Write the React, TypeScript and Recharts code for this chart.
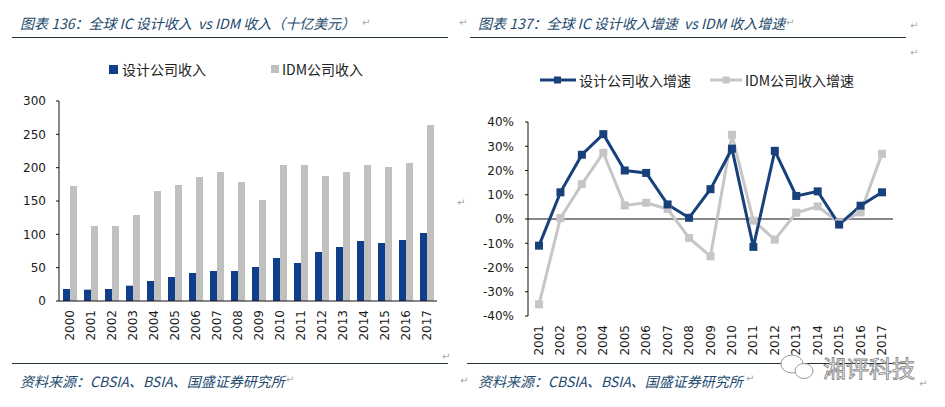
import React from "react";
import {
  Bar,
  BarChart,
  Line,
  LineChart,
  ReferenceLine,
  XAxis,
  YAxis,
} from "recharts";

const years = [
  "2000", "2001", "2002", "2003", "2004", "2005", "2006", "2007", "2008",
  "2009", "2010", "2011", "2012", "2013", "2014", "2015", "2016", "2017",
];
// 十亿美元
const designRevenue = [18, 17, 18, 23, 30, 36, 42, 45, 45, 51, 64.5, 57, 73.5, 81, 90, 87, 91.5, 102];
const idmRevenue = [172.5, 112.5, 112.5, 129, 165, 174, 186, 193.5, 178.5, 151.5, 204, 204, 187.5, 193.5, 204, 201, 207, 264];
const revenueTicks = [0, 50, 100, 150, 200, 250, 300];

// 增速 (%)
const growthYears = years.slice(1);
const designGrowth = [-11, 11, 26.5, 35, 20, 19, 6, 0.5, 12.3, 29, -11.5, 28.1, 9.5, 11.4, -2.3, 5.5, 11];
const idmGrowth = [-35.2, 0.4, 14.4, 27.3, 5.6, 6.7, 4.1, -7.8, -15.4, 34.7, -0.7, -8.5, 2.6, 5.2, -1.5, 2.7, 26.9];
const growthTicks = [-40, -30, -20, -10, 0, 10, 20, 30, 40];

const BLUE_BAR = "#0f3e8a";
const GRAY_BAR = "#c0c0c0";
const BLUE_LINE = "#18417c";
const GRAY_LINE = "#c6c6c6";
const CAPTION = "#1d4a6e";

const revenueData = years.map((year, i) => ({
  year,
  design: designRevenue[i],
  idm: idmRevenue[i],
}));

const growthData = growthYears.map((year, i) => ({
  year,
  design: designGrowth[i],
  idm: idmGrowth[i],
}));

const numFont = "'DejaVu Sans', Verdana, sans-serif";
const cjkFont = "'Noto Sans CJK SC', 'Noto Sans', sans-serif";
const tickStyle = { fill: "#1a1a1a", fontSize: 12, fontFamily: numFont };

function YearTick(props: any) {
  const { x, y, payload } = props;
  return (
    <text
      x={x}
      y={y + 1}
      transform={`rotate(-90, ${x}, ${y + 1})`}
      textAnchor="end"
      dominantBaseline="central"
      fill="#1a1a1a"
      fontSize={12}
      fontFamily={numFont}
    >
      {payload.value}
    </text>
  );
}

function squareDot(color: string) {
  return (props: any) => {
    const { cx, cy, index } = props;
    if (cx == null || cy == null) return null;
    return <rect key={index} x={cx - 4} y={cy - 4} width={8} height={8} fill={color} />;
  };
}

const captionStyle: React.CSSProperties = {
  position: "absolute",
  fontFamily: cjkFont,
  fontStyle: "italic",
  fontSize: 14,
  color: CAPTION,
  whiteSpace: "nowrap",
  lineHeight: "16px",
};

const rule = (left: number, top: number, width: number): React.CSSProperties => ({
  position: "absolute",
  left,
  top,
  width,
  height: 0,
  borderTop: "1.5px solid #22333d",
});

// word-processor return marks scattered round the two figures
const returnMarks = [
  [362, 17], [459, 17], [786, 17], [910, 20], [910, 47], [457, 197],
  [442, 351], [286, 374], [460, 375], [746, 373], [919, 378],
];

export default function App() {
  return (
    <div
      style={{
        position: "absolute",
        left: 0,
        top: 0,
        width: 945,
        height: 407,
        background: "#fff",
        overflow: "hidden",
      }}
    >
      {/* captions */}
      <div style={{ ...captionStyle, left: 20, top: 15 }}>
        图表 136：全球 IC 设计收入 &nbsp;vs IDM 收入（十亿美元）
      </div>
      <div style={{ ...captionStyle, left: 478, top: 15 }}>
        图表 137：全球 IC 设计收入增速 &nbsp;vs IDM 收入增速
      </div>
      <div style={rule(12, 37, 436)} />
      <div style={rule(470, 37, 436)} />
      <div style={rule(12, 363, 436)} />
      <div style={rule(467, 363, 439)} />
      <div style={{ ...captionStyle, left: 20, top: 373 }}>
        资料来源：CBSIA、BSIA、国盛证券研究所
      </div>
      <div style={{ ...captionStyle, left: 478, top: 373 }}>
        资料来源：CBSIA、BSIA、国盛证券研究所
      </div>
      {returnMarks.map(([l, t], i) => (
        <div
          key={i}
          style={{ position: "absolute", left: l, top: t, fontSize: 10, color: "#aaa", fontFamily: numFont }}
        >
          ↵
        </div>
      ))}

      {/* left legend */}
      <div style={{ position: "absolute", left: 109, top: 59, display: "flex", alignItems: "center", fontFamily: cjkFont, fontSize: 14, color: "#222" }}>
        <span style={{ width: 9, height: 9, background: BLUE_BAR, display: "inline-block", marginRight: 4 }} />
        <span>设计公司收入</span>
        <span style={{ width: 8, height: 8, background: GRAY_BAR, display: "inline-block", marginLeft: 65, marginRight: 3 }} />
        <span>IDM公司收入</span>
      </div>

      {/* left chart */}
      <div style={{ position: "absolute", left: 0, top: 0 }}>
        <BarChart
          width={460}
          height={360}
          data={revenueData}
          margin={{ top: 101, right: 23, bottom: 19, left: 10 }}
          barGap={0}
          barSize={7}
        >
          <XAxis
            dataKey="year"
            interval={0}
            tickLine={false}
            axisLine={{ stroke: "#111" }}
            height={40}
            tick={<YearTick />}
          />
          <YAxis
            domain={[0, 300]}
            ticks={revenueTicks}
            width={49}
            tickSize={3}
            tickMargin={10}
            tickLine={{ stroke: "#111" }}
            axisLine={{ stroke: "#111" }}
            tick={tickStyle}
          />
          <Bar dataKey="design" fill={BLUE_BAR} isAnimationActive={false} />
          <Bar dataKey="idm" fill={GRAY_BAR} isAnimationActive={false} />
        </BarChart>
      </div>

      {/* right legend */}
      <div style={{ position: "absolute", left: 540, top: 70, display: "flex", alignItems: "center", fontFamily: cjkFont, fontSize: 14, color: "#222" }}>
        <svg width={36} height={10} style={{ marginRight: 3 }}>
          <line x1={0} y1={5} x2={36} y2={5} stroke={BLUE_LINE} strokeWidth={3} />
          <rect x={14} y={1.5} width={7} height={7} fill={BLUE_LINE} />
        </svg>
        <span>设计公司收入增速</span>
        <svg width={32} height={10} style={{ marginLeft: 19, marginRight: 3 }}>
          <line x1={0} y1={5} x2={32} y2={5} stroke={GRAY_LINE} strokeWidth={3} />
          <rect x={12.5} y={1.5} width={7} height={7} fill={GRAY_LINE} />
        </svg>
        <span>IDM公司收入增速</span>
      </div>

      {/* right chart */}
      <div style={{ position: "absolute", left: 460, top: 0 }}>
        <LineChart
          width={470}
          height={370}
          data={growthData}
          margin={{ top: 122, right: 37, bottom: 14, left: 10 }}
        >
          <XAxis
            dataKey="year"
            interval={0}
            tickLine={false}
            axisLine={false}
            height={40}
            padding={{ left: 11, right: 11 }}
            tick={<YearTick />}
            tickMargin={2}
          />
          <YAxis
            domain={[-40, 40]}
            ticks={growthTicks}
            tickFormatter={(v) => `${v}%`}
            width={58}
            tickSize={3}
            tickMargin={11}
            tickLine={{ stroke: "#111" }}
            axisLine={{ stroke: "#111" }}
            tick={tickStyle}
          />
          <ReferenceLine y={0} stroke="#111" strokeWidth={1} />
          <Line
            type="linear"
            dataKey="idm"
            stroke={GRAY_LINE}
            strokeWidth={3}
            dot={squareDot(GRAY_LINE)}
            activeDot={false}
            isAnimationActive={false}
          />
          <Line
            type="linear"
            dataKey="design"
            stroke={BLUE_LINE}
            strokeWidth={3}
            dot={squareDot(BLUE_LINE)}
            activeDot={false}
            isAnimationActive={false}
          />
        </LineChart>
      </div>

      {/* watermark */}
      <svg style={{ position: "absolute", left: 778, top: 350 }} width={142} height={36}>
        <ellipse cx={14} cy={14} rx={11} ry={9} fill="#fff" stroke="#999" strokeWidth={1} />
        <ellipse cx={26} cy={21} rx={9} ry={7.5} fill="#fff" stroke="#999" strokeWidth={1} />
        <text
          x={45}
          y={27}
          fontSize={23}
          fontFamily={cjkFont}
          fill="#fff"
          stroke="#8a8a8a"
          strokeWidth={0.9}
        >
          湘评科技
        </text>
      </svg>
    </div>
  );
}
